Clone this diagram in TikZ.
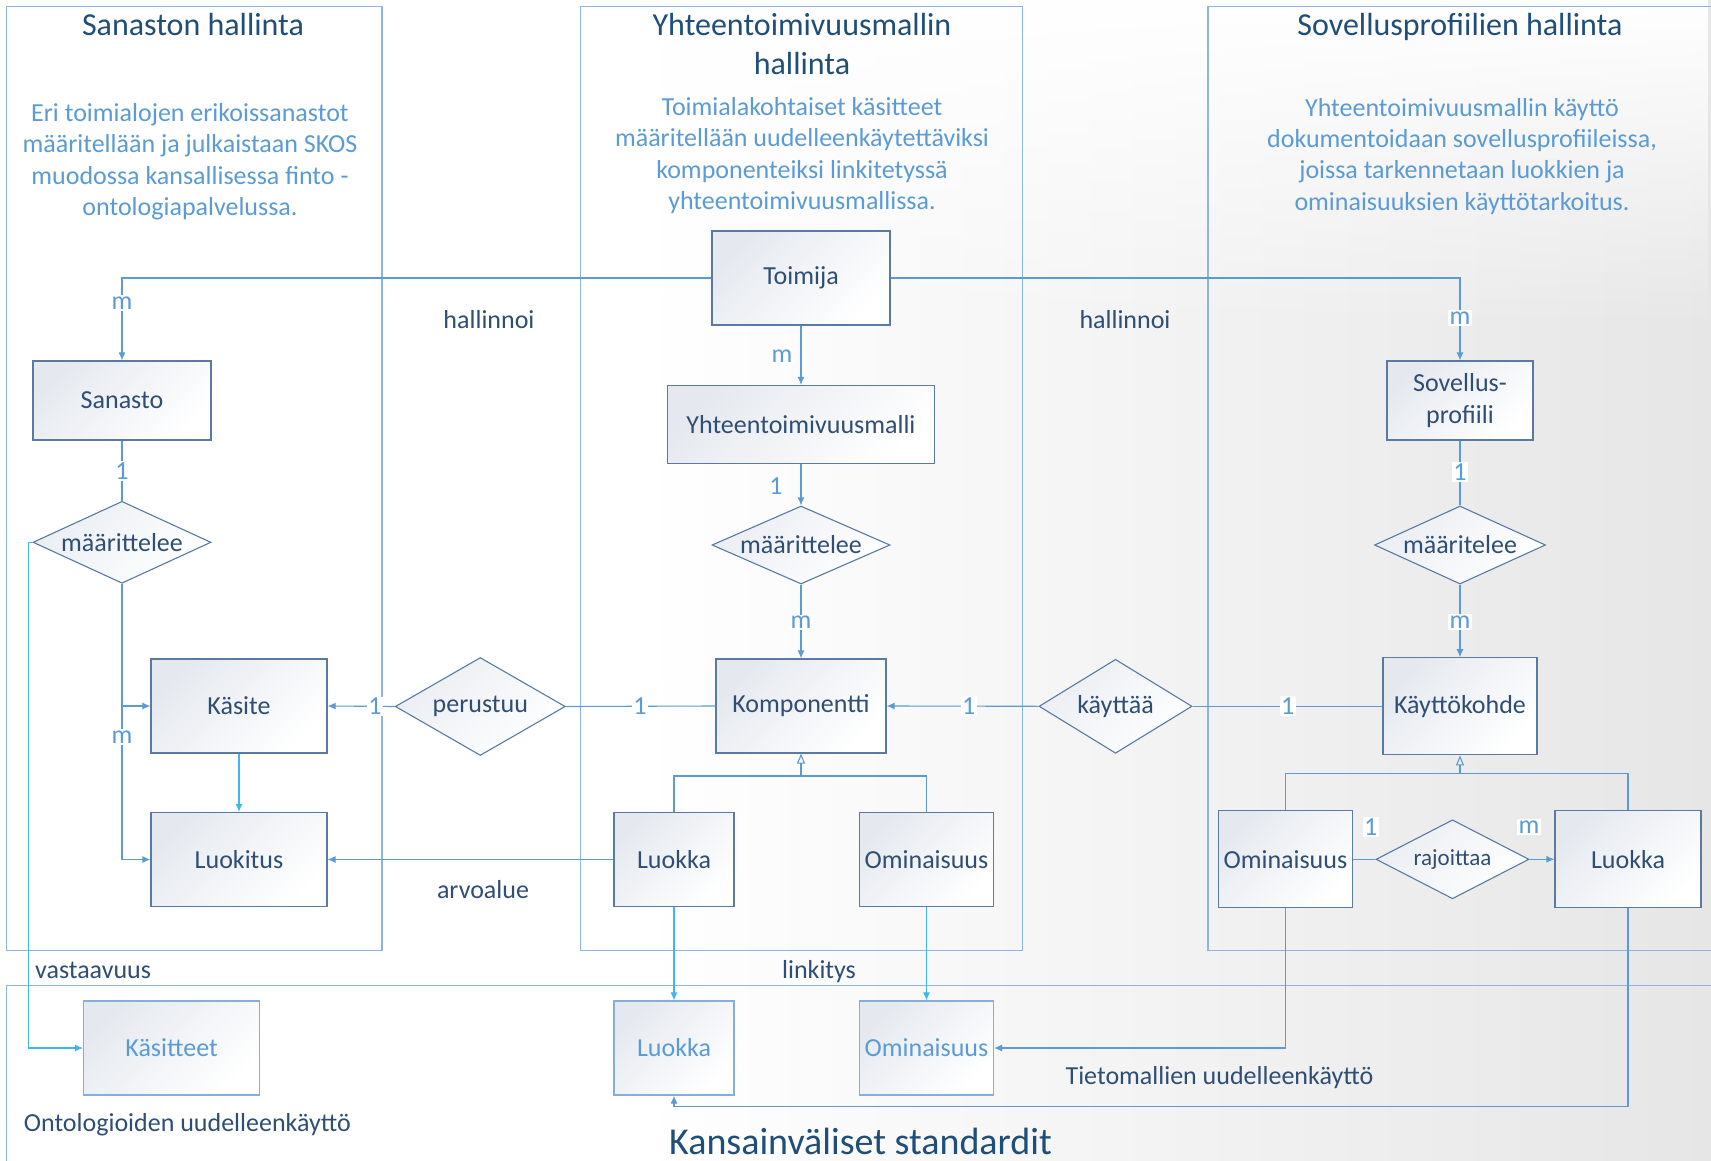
\documentclass[tikz,border=0pt]{standalone}
\usepackage{fontspec}
\setmainfont{Carlito}
\usetikzlibrary{arrows.meta,shapes.geometric,fadings}

\definecolor{panel}{HTML}{8DB4E2}
\definecolor{conn}{HTML}{5B9BD5}
\definecolor{bright}{HTML}{3DB8EE}
\definecolor{boxline}{HTML}{5A7AA3}
\definecolor{boxtop}{HTML}{E5E9EF}
\definecolor{ink}{HTML}{2E4E74}
\definecolor{head}{HTML}{1F4E79}
\definecolor{desc}{HTML}{5B9BD5}
\definecolor{extline}{HTML}{86AEDC}
\definecolor{haze}{HTML}{E6E6E6}

\tikzfading[name=topfade, top color=transparent!0, bottom color=transparent!100]

\begin{document}
\begin{tikzpicture}[x=1pt,y=-1pt,
  every node/.style={font=\fontsize{26}{31.4}\selectfont, text=ink, inner sep=0pt},
  ent/.style={rectangle, draw=boxline, line width=1.2pt, top color=boxtop,
    bottom color=white, shading angle=45, align=center},
  extent/.style={ent, draw=extline, text=desc},
  rel/.style={diamond, draw=boxline, line width=1.1pt, top color=boxtop!80,
    bottom color=white, shading angle=45},
  headline/.style={font=\fontsize{32}{39}\selectfont, text=head, align=center, anchor=base},
  desctext/.style={text=desc, align=center, anchor=base},
  note/.style={anchor=base},
  card/.style={fill=white, text=conn, inner sep=1.5pt},
  frame/.style={draw=panel, line width=1.1pt},
  link/.style={draw=conn, line width=1.1pt},
  arr/.style={link, -{Latex[length=8pt,width=7pt]}},
  cyanarr/.style={arr, draw=bright},
  gen/.style={link, -{Triangle[open,length=10pt,width=8pt]}}
]
\useasboundingbox (0,0) rectangle (1711,1161);

% background haze towards the right, lighter at the top
\fill[white] (0,0) rectangle (1711,1161);
\shade[left color=white, right color=haze] (640,0) rectangle (1711,1161);
\fill[white, path fading=topfade] (640,0) rectangle (1711,330);

% panels
\draw[frame] (6.5,6.5) rectangle (382,950.5);
\draw[frame] (580.5,6.5) rectangle (1022.5,950.5);
\draw[frame] (1725,6.5) -- (1208,6.5) -- (1208,950.5) -- (1725,950.5);
\draw[frame] (1725,985.5) -- (6.5,985.5) -- (6.5,1175);

% panel headings and descriptions (base = last line)
\node[headline] (t1) at (193,36) {Sanaston hallinta};
\node[headline] (t2) at (802,75) {Yhteentoimivuusmallin\\hallinta};
\node[headline] (t3) at (1460,36) {Sovellusprofiilien hallinta};

\node[desctext] (d1) at (190,215.6) {Eri toimialojen erikoissanastot\\määritellään ja julkaistaan SKOS\\muodossa kansallisessa finto -\\ontologiapalvelussa.};
\node[desctext] (d2) at (802,209.7) {Toimialakohtaiset käsitteet\\määritellään uudelleenkäytettäviksi\\komponenteiksi linkitetyssä\\yhteentoimivuusmallissa.};
\node[desctext] (d3) at (1462,210.3) {Yhteentoimivuusmallin käyttö\\dokumentoidaan sovellusprofiileissa,\\joissa tarkennetaan luokkien ja\\ominaisuuksien käyttötarkoitus.};

% entities
\node[ent, minimum width=178pt, minimum height=94pt] (toimija) at (801,278) {Toimija};
\node[ent, minimum width=267pt, minimum height=78pt] (ytm) at (801,424.5) {Yhteentoimivuusmalli};
\node[ent, minimum width=170pt, minimum height=94pt] (komp) at (801,706) {Komponentti};
\node[ent, minimum width=178pt, minimum height=79pt] (sanasto) at (122,400.5) {Sanasto};
\node[ent, minimum width=176pt, minimum height=94pt] (kasite) at (239,706) {Käsite};
\node[ent, minimum width=176pt, minimum height=94pt] (luokitus) at (239,859.5) {Luokitus};
\node[ent, minimum width=120pt, minimum height=94pt] (luokkaM) at (674,859.5) {Luokka};
\node[ent, minimum width=134pt, minimum height=94pt] (ominM) at (926.5,859.5) {Ominaisuus};
\node[ent, minimum width=154pt, minimum height=97pt] (kohde) at (1460,706.3) {Käyttökohde};
\node[ent, minimum width=146pt, minimum height=79pt] (profiili) at (1460,400.5) {Sovellus-\\profiili};
\node[ent, minimum width=134pt, minimum height=97pt] (ominR) at (1285.4,859.3) {Ominaisuus};
\node[ent, minimum width=146pt, minimum height=97pt] (luokkaR) at (1628,859.3) {Luokka};

\node[extent, minimum width=120pt, minimum height=94pt] (luokkaB) at (674,1048) {Luokka};
\node[extent, minimum width=134pt, minimum height=94pt] (ominB) at (926.5,1048) {Ominaisuus};
\node[extent, minimum width=176pt, minimum height=94pt] (kasitteet) at (171.6,1048) {Käsitteet};

% relationships
\node[rel, minimum width=178pt, minimum height=82pt, label={center:määrittelee}] (defL) at (122,542.3) {};
\node[rel, minimum width=178pt, minimum height=78pt, label={center:määrittelee}] (defM) at (801,545) {};
\node[rel, minimum width=171pt, minimum height=78pt, label={center:määritelee}] (defR) at (1460,545) {};
\node[rel, minimum width=170pt, minimum height=98pt, label={center:perustuu}] (perustuu) at (480.3,706.5) {};
\node[rel, minimum width=153pt, minimum height=94pt, label={center:käyttää}] (kayttaa) at (1115.5,706.3) {};
\node[rel, minimum width=153pt, minimum height=79pt, label={[font=\fontsize{23}{28}\selectfont]center:rajoittaa}] (rajoittaa) at (1452.5,859.3) {};

% junctions and bends
\coordinate (genM) at (801,776);
\coordinate (genR) at (1460,773.3);
\coordinate (loopR) at (674,1106.7);
\coordinate (vasta) at (28.7,542.3);

% connectors
\draw[arr] (toimija.west) -| (sanasto.north);
\draw[arr] (toimija.east) -| (profiili.north);
\draw[arr] (toimija.south) -- (ytm.north);
\draw[arr] (ytm.south) -- (defM.north);
\draw[arr] (defM.south) -- (komp.north);

\draw[link] (sanasto.south) -- (defL.north);
\draw[arr] (defL.south) |- (kasite.west);
\draw[arr] (defL.south) |- (luokitus.west);
\draw[cyanarr] (kasite.south) -- (luokitus.north);
\draw[arr] (perustuu.west) -- (kasite.east);
\draw[link] (perustuu.east) -- (komp.west);
\draw[arr] (kayttaa.west) -- (komp.east);
\draw[link] (kayttaa.east) -- (kohde.west);

\draw[link] (profiili.south) -- (defR.north);
\draw[arr] (defR.south) -- (kohde.north);

\draw[link] (luokkaM.north) |- (genM) -| (ominM.north);
\draw[gen] (genM) -- (komp.south);
\draw[link] (ominR.north) |- (genR) -| (luokkaR.north);
\draw[gen] (genR) -- (kohde.south);

\draw[arr] (luokkaM.west) -- (luokitus.east);
\draw[cyanarr] (luokkaM.south) -- (luokkaB.north);
\draw[cyanarr] (ominM.south) -- (ominB.north);

\draw[link] (ominR.east) -- (rajoittaa.west);
\draw[arr] (rajoittaa.east) -- (luokkaR.west);
\draw[arr] (ominR.south) |- (ominB.east);
\draw[arr] (luokkaR.south) |- (loopR) -- (luokkaB.south);

\draw[cyanarr] (defL.west) -- (vasta) |- (kasitteet.west);

% cardinalities
\node[card] (c1) at (122,303) {m};
\node[card] (c2) at (1460,318) {m};
\node[card] (c3) at (782,356) {m};
\node[card] (c4) at (776,486.5) {1};
\node[card] (c5) at (801,622.5) {m};
\node[card] (c6) at (122,471) {1};
\node[card] (c7) at (122,737) {m};
\node[card] (c8) at (375,706.5) {1};
\node[card] (c9) at (640,706) {1};
\node[card] (c10) at (968.7,706) {1};
\node[card] (c11) at (1287.7,706.3) {1};
\node[card] (c12) at (1460,471.7) {1};
\node[card] (c13) at (1460,621.7) {m};
\node[card] (c14) at (1370.7,826.7) {1};
\node[card] (c15) at (1529,826.7) {m};

% relation and area labels
\node[note] (h1) at (489,328.3) {hallinnoi};
\node[note] (h2) at (1125,328.3) {hallinnoi};
\node[note] (av) at (483,898.7) {arvoalue};
\node[note, anchor=base west] (vs) at (35,978.3) {vastaavuus};
\node[note] (lk) at (819,978.3) {linkitys};
\node[note] (tm) at (1219.5,1084) {Tietomallien uudelleenkäyttö};
\node[note, anchor=base west] (on) at (23.7,1131.7) {Ontologioiden uudelleenkäyttö};
\node[font=\fontsize{38}{44}\selectfont, text=head, anchor=base] (ks) at (860.5,1154) {Kansainväliset standardit};
\end{tikzpicture}
\end{document}
